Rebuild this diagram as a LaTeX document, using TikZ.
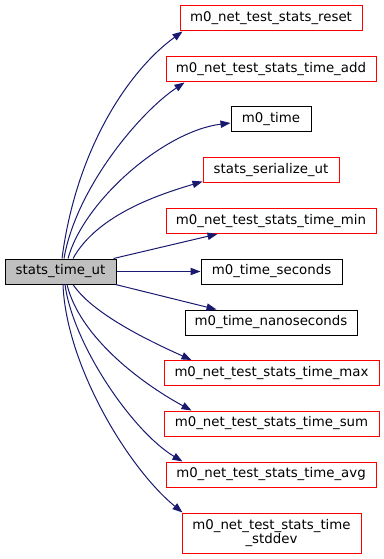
\documentclass[tikz,border=0pt]{standalone}
\usepackage{fontspec}
\setmainfont{DejaVu Sans}
\usetikzlibrary{arrows.meta,calc}
\definecolor{cgedge}{HTML}{191970}
\definecolor{cgred}{HTML}{FF0000}
\definecolor{cggray}{HTML}{BFBFBF}
\tikzset{
  fnBox/.style={draw=black, fill=white, line width=0.75pt, minimum height=18.75pt, inner xsep=2pt, inner ysep=1pt, font=\fontsize{10}{10}\selectfont, align=center},
  fnRed/.style={fnBox, draw=cgred},
  fnRoot/.style={fnBox, fill=cggray},
  callArrow/.style={-{Triangle[length=7.5pt,width=5.5pt]}, line width=0.75pt, draw=cgedge}
}

\begin{document}
\begin{tikzpicture}[x=0.75pt,y=-0.75pt]
  \useasboundingbox (0,0) rectangle (384,559);
  % caller
  \node[fnRoot, minimum width=83.25pt] (src) at (60.5,271.5) {stats\_time\_ut};
  % callees
  \node[fnRed, minimum width=136.5pt]  (reset) at (271,18.5)  {m0\_net\_test\_stats\_reset};
  \node[fnRed, minimum width=157.5pt]  (add)   at (271,69.5)  {m0\_net\_test\_stats\_time\_add};
  \node[fnBox, minimum width=60pt]     (mtime) at (271,119.5) {m0\_time};
  \node[fnRed, minimum width=102pt]    (ser)   at (271,170.5) {stats\_serialize\_ut};
  \node[fnRed, minimum width=157.5pt]  (min)   at (271,221)   {m0\_net\_test\_stats\_time\_min};
  \node[fnBox, minimum width=105.75pt] (secs)  at (271.5,271.5) {m0\_time\_seconds};
  \node[fnBox, minimum width=129pt]    (nsecs) at (271,322.5) {m0\_time\_nanoseconds};
  \node[fnRed, minimum width=161.25pt] (max)   at (271.5,373) {m0\_net\_test\_stats\_time\_max};
  \node[fnRed, minimum width=161.25pt] (sum)   at (271.5,423.5) {m0\_net\_test\_stats\_time\_sum};
  \node[fnRed, minimum width=157.5pt]  (avg)   at (271,474.5) {m0\_net\_test\_stats\_time\_avg};
  \node[fnRed, minimum width=134.25pt, minimum height=30pt] (stddev) at (271.5,533) {m0\_net\_test\_stats\_time\\\_stddev};

  % calls going up
  \draw[callArrow] ($(src.north)+(1.5,0)$) .. controls +(14,-108) and +(-55,40) .. ($(reset.south west)+(3,0)$);
  \draw[callArrow] ($(src.north)+(3.5,0)$) .. controls +(12,-70) and +(-45,30) .. ($(add.south west)+(19,0)$);
  \draw[callArrow] ($(src.north)+(7.5,0)$) .. controls +(16,-58) and +(-66,8) .. ($(mtime.west)+(0,3.5)$);
  \draw[callArrow] ($(src.north)+(12.5,0)$) .. controls +(25,-45) and +(-40,12) .. ($(ser.south west)+(0,-2)$);
  \draw[callArrow] ($(src.north east)+(-3,0)$) -- ($(min.south west)+(52,0)$);
  % straight across
  \draw[callArrow] (src.east) -- (secs.west);
  % calls going down
  \draw[callArrow] ($(src.south east)+(-1,0)$) -- ($(nsecs.north west)+(32,0)$);
  \draw[callArrow] ($(src.south)+(12.5,0)$) .. controls +(20,30) and +(-40,-18) .. ($(max.north west)+(28,0)$);
  \draw[callArrow] ($(src.south)+(6.5,0)$) .. controls +(12,50) and +(-55,-30) .. ($(sum.north west)+(28,0)$);
  \draw[callArrow] ($(src.south)+(4.5,0)$) .. controls +(8,60) and +(-50,-30) .. ($(avg.north west)+(17,0)$);
  \draw[callArrow] ($(src.south)+(2.5,0)$) .. controls +(3,80) and +(-55,-45) .. ($(stddev.north west)+(1,0)$);
\end{tikzpicture}
\end{document}
